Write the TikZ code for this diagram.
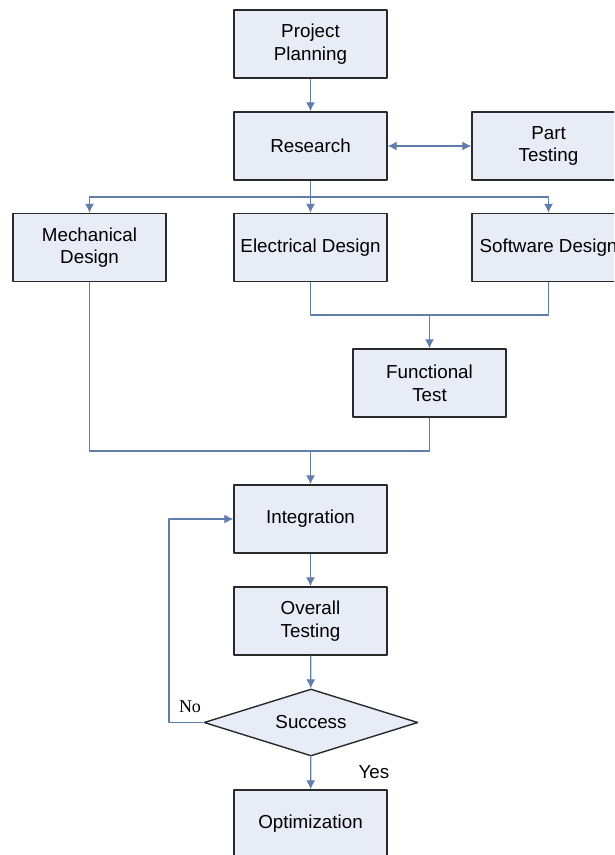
\documentclass[tikz,border=0pt]{standalone}
\usepackage{fontspec}
\setmainfont{Liberation Sans}
\newfontfamily\serifnote{Liberation Serif}
\usetikzlibrary{shapes.geometric,arrows.meta}
\definecolor{linkblue}{HTML}{5F7DAD}
\definecolor{stagefill}{HTML}{E8ECF6}
\definecolor{stageline}{HTML}{2A2A2A}
\begin{document}
\begin{tikzpicture}[x=1pt,y=-1pt,font=\fontsize{18.8}{22.7}\selectfont,line join=round,>={Latex[length=9pt,width=9pt]},
	stage/.style={draw=stageline,line width=1.4pt,fill=stagefill,minimum width=153pt,minimum height=68pt,inner sep=0pt,align=center},
	check/.style={diamond,draw=stageline,line width=1.4pt,fill=stagefill,minimum width=214pt,minimum height=67pt,aspect=3.19,inner sep=0pt},
	link/.style={draw=linkblue,line width=1.2pt}]
	\useasboundingbox (0,0) rectangle (614,855);
	\clip (0,0) rectangle (614,855);
	\node[stage] (plan) at (310.5,44) {Project\\Planning};
	\node[stage] (res) at (310.5,146) {Research};
	\node[stage] (part) at (548.5,146) {Part\\Testing};
	\node[stage] (mech) at (89.5,247.5) {Mechanical\\Design};
	\node[stage] (elec) at (310.5,247.5) {Electrical Design};
	\node[stage] (soft) at (548.5,247.5) {Software Design};
	\node[stage] (ftest) at (429.5,383) {Functional\\Test};
	\node[stage] (integ) at (310.5,519) {Integration};
	\node[stage] (overall) at (310.5,621) {Overall\\Testing};
	\node[check] (succ) at (311,722.5) {Success};
	\node[stage] (optim) at (310.5,824) {Optimization};
	\coordinate (split) at (310.5,197);
	\coordinate (joinA) at (429.5,315);
	\coordinate (joinB) at (310.5,451);
	\coordinate (back) at (169,722.5);
	\draw[link,->] (plan) -- (res);
	\draw[link,<->] (res) -- (part);
	\draw[link] (res) -- (split);
	\draw[link,->] (split) -| (mech);
	\draw[link,->] (split) -- (elec);
	\draw[link,->] (split) -| (soft);
	\draw[link] (elec.south) |- (joinA);
	\draw[link] (soft.south) |- (joinA);
	\draw[link,->] (joinA) -- (ftest);
	\draw[link] (mech.south) |- (joinB);
	\draw[link] (ftest.south) |- (joinB);
	\draw[link,->] (joinB) -- (integ);
	\draw[link,->] (integ) -- (overall);
	\draw[link,->] (overall) -- (succ);
	\draw[link,->] (succ) -- (optim);
	\draw[link,->] (succ.west) -- (back) |- (integ.west);
	\node[font=\serifnote\fontsize{18}{20}\selectfont] (nolabel) at (190,707) {No};
	\node (yeslabel) at (374,772) {Yes};
\end{tikzpicture}
\end{document}
